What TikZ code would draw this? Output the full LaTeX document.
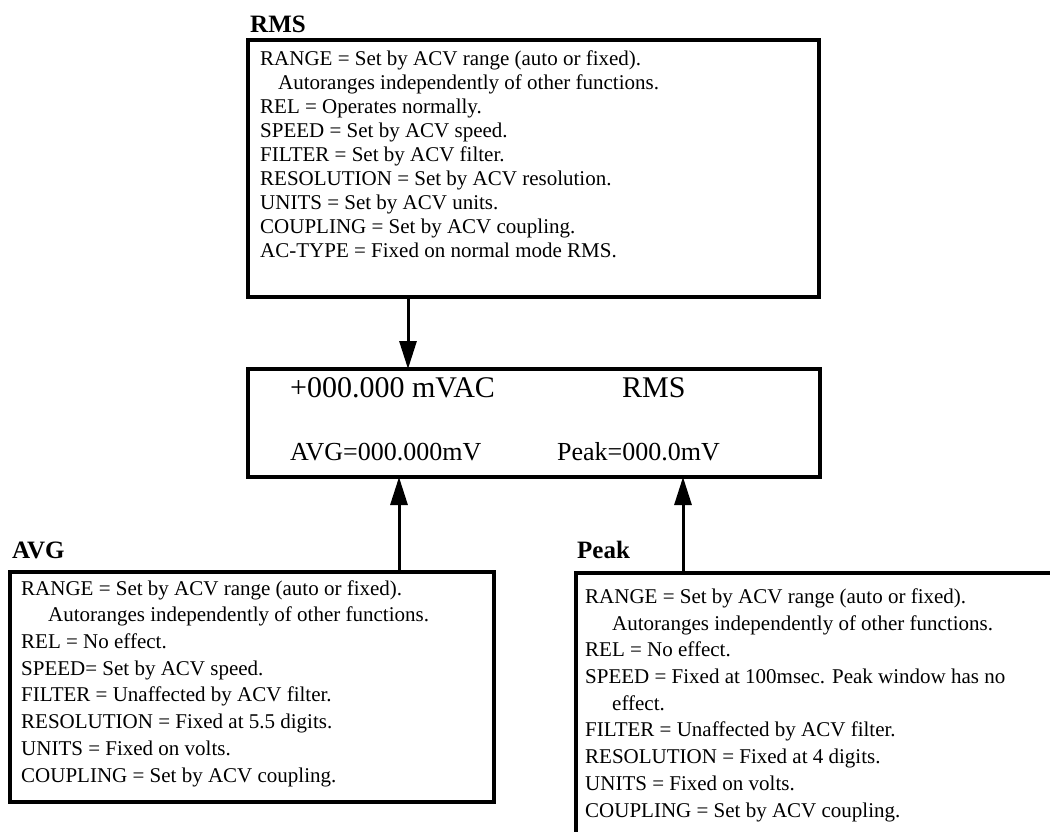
\documentclass[tikz,border=0pt]{standalone}
\usepackage{fontspec}
\setmainfont{Liberation Serif}
\usetikzlibrary{arrows.meta,positioning}

\begin{document}
\begin{tikzpicture}[x=1pt,y=-1pt,>={Triangle[length=28pt,width=17pt]},
  frame/.style={draw,line width=3.5pt,inner sep=0pt,outer sep=0pt,anchor=north west},
  title/.style={anchor=base west,inner sep=0pt,font=\bfseries\fontsize{25}{30}\selectfont},
  notes/.style={anchor=base west,inner sep=0pt,align=left,font=\fontsize{21}{26.7}\selectfont},
  readout/.style={anchor=base west,inner sep=0pt},
  flow/.style={->,line width=3pt}]
  \useasboundingbox (0,0) rectangle (1050,831);
  \clip (0,0) rectangle (1050,831);

  % boxes
  \node[frame,minimum width=571pt,minimum height=257pt] (rms) at (248,40) {};
  \node[frame,minimum width=572pt,minimum height=108pt] (disp) at (248,369) {};
  \node[frame,minimum width=484pt,minimum height=230pt] (avg) at (10,572) {};
  \node[frame,minimum width=600pt,minimum height=400pt] (peak) at (576,573) {};

  % titles
  \node[title] (rmstitle) at (250,32) {RMS};
  \node[title] (avgtitle) at (12,558) {AVG};
  \node[title] (peaktitle) at (577,558) {Peak};

  % display
  \node[readout,font=\fontsize{30}{36}\selectfont] (val) at (290,397) {+000.000 mVAC};
  \node[readout,font=\fontsize{30}{36}\selectfont] (mode) at (622,397) {RMS};
  \node[readout,font=\fontsize{26}{30}\selectfont] (avgval) at (290,460) {AVG=000.000mV};
  \node[readout,font=\fontsize{26}{30}\selectfont] (peakval) at (557,460) {Peak=000.0mV};

  % settings (placed by the baseline of the last line)
  \node[notes,font=\fontsize{21}{24}\selectfont] (rmsnotes) at (260,257) {%
    RANGE = Set by ACV range (auto or fixed).\\
    \hspace*{18pt}Autoranges independently of other functions.\\
    REL = Operates normally.\\
    SPEED = Set by ACV speed.\\
    FILTER = Set by ACV filter.\\
    RESOLUTION = Set by ACV resolution.\\
    UNITS = Set by ACV units.\\
    COUPLING = Set by ACV coupling.\\
    AC-TYPE = Fixed on normal mode RMS.};
  \node[notes] (avgnotes) at (21,782) {%
    RANGE = Set by ACV range (auto or fixed).\\
    \hspace*{27pt}Autoranges independently of other functions.\\
    REL = No effect.\\
    SPEED= Set by ACV speed.\\
    FILTER = Unaffected by ACV filter.\\
    RESOLUTION = Fixed at 5.5 digits.\\
    UNITS = Fixed on volts.\\
    COUPLING = Set by ACV coupling.};
  \node[notes] (peaknotes) at (585,817) {%
    RANGE = Set by ACV range (auto or fixed).\\
    \hspace*{27pt}Autoranges independently of other functions.\\
    REL = No effect.\\
    SPEED = Fixed at 100msec. Peak window has no\\
    \hspace*{27pt}effect.\\
    FILTER = Unaffected by ACV filter.\\
    RESOLUTION = Fixed at 4 digits.\\
    UNITS = Fixed on volts.\\
    COUPLING = Set by ACV coupling.};

  % arrows
  \draw[flow] ([xshift=160pt]rms.south west) -- ([xshift=160pt]disp.north west);
  \draw[flow] ([xshift=389pt]avg.north west) -- ([xshift=151pt]disp.south west);
  \draw[flow] ([xshift=107pt]peak.north west) -- ([xshift=435pt]disp.south west);
\end{tikzpicture}
\end{document}
